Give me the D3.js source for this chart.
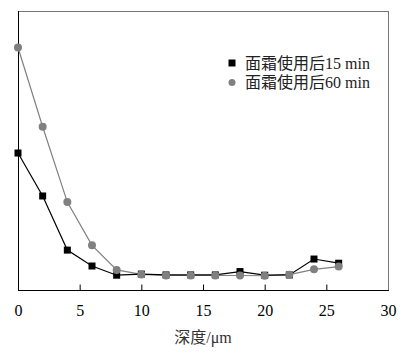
<!doctype html>
<html lang="zh">
<head>
<meta charset="utf-8">
<script src="https://d3js.org/d3.v7.min.js"></script>
<style>
  body { margin: 0; background: #fff; }
  svg text { font-family: "Liberation Serif", "Noto Sans CJK SC", serif; }
</style>
</head>
<body>
<div id="chart"></div>
<script>
  // depth in µm
  const depth = [0, 2, 4, 6, 8, 10, 12, 14, 16, 18, 20, 22, 24, 26];
  // relative signal, arbitrary units (no y labels in the original)
  const after15 = [49.1, 33.7, 14.3, 8.6, 5.3, 5.7, 5.4, 5.4, 5.4, 6.6, 5.3, 5.4, 11.1, 9.6];
  const after60 = [86.9, 58.5, 31.5, 16.0, 7.2, 5.6, 5.2, 5.2, 5.2, 5.2, 5.1, 5.5, 7.4, 8.4];
  const xTicks = [0, 5, 10, 15, 20, 25, 30];
  const legendLabels = ['面霜使用后15 min', '面霜使用后60 min'];

  const width = 409, height = 354;
  const margin = { top: 11, right: 21, bottom: 64, left: 18 };

  const svg = d3.select('#chart').append('svg')
    .attr('width', width)
    .attr('height', height);

  const x = d3.scaleLinear()
    .domain([0, 30])
    .range([margin.left, width - margin.right]);

  const y = d3.scaleLinear()
    .domain([0, 100])
    .range([height - margin.bottom, margin.top]);

  // frame: top/right grey, left/bottom black
  svg.append('line')
    .attr('x1', x(0)).attr('x2', x(30))
    .attr('y1', y(100) + 0.5).attr('y2', y(100) + 0.5)
    .attr('stroke', '#777');
  svg.append('line')
    .attr('x1', x(30) + 0.5).attr('x2', x(30) + 0.5)
    .attr('y1', y(100)).attr('y2', y(0))
    .attr('stroke', '#777');
  svg.append('line')
    .attr('x1', x(0) + 0.5).attr('x2', x(0) + 0.5)
    .attr('y1', y(100)).attr('y2', y(0))
    .attr('stroke', '#000');

  const xAxis = d3.axisBottom(x)
    .tickValues(xTicks)
    .tickSize(-6)
    .tickPadding(14)
    .tickFormat(d3.format('d'));

  const gx = svg.append('g')
    .attr('transform', `translate(0,${y(0) + 0.5})`)
    .call(xAxis);
  gx.select('.domain').attr('stroke', '#000').attr('d', `M${x(0)},0H${x(30) + 1}`);
  gx.selectAll('.tick line').attr('stroke', '#000')
    .attr('display', d => (d === 0 || d === 30) ? 'none' : null);
  gx.selectAll('.tick text')
    .attr('font-size', 16)
    .attr('fill', '#000')
    .attr('font-family', '"Liberation Serif", serif');

  svg.append('text')
    .attr('x', (x(0) + x(30)) / 2)
    .attr('y', 343)
    .attr('text-anchor', 'middle')
    .attr('font-size', 16)
    .attr('fill', '#333')
    .text('深度/μm');

  const line = d3.line()
    .x(d => x(d[0]))
    .y(d => y(d[1]));

  const s60 = depth.map((d, i) => [d, after60[i]]);
  const s15 = depth.map((d, i) => [d, after15[i]]);

  svg.append('path')
    .datum(s60)
    .attr('fill', 'none')
    .attr('stroke', '#808080')
    .attr('stroke-width', 1.2)
    .attr('d', line);

  svg.append('path')
    .datum(s15)
    .attr('fill', 'none')
    .attr('stroke', '#000')
    .attr('stroke-width', 1.2)
    .attr('d', line);

  svg.selectAll('rect.p15')
    .data(s15)
    .enter()
    .append('rect')
    .attr('class', 'p15')
    .attr('x', d => x(d[0]) - 3.5)
    .attr('y', d => y(d[1]) - 3.5)
    .attr('width', 7)
    .attr('height', 7)
    .attr('fill', '#000');

  svg.selectAll('circle.p60')
    .data(s60)
    .enter()
    .append('circle')
    .attr('class', 'p60')
    .attr('cx', d => x(d[0]))
    .attr('cy', d => y(d[1]))
    .attr('r', 4)
    .attr('fill', '#808080');

  // legend
  const legend = svg.append('g').attr('transform', 'translate(232,63)');
  legend.append('rect')
    .attr('x', -3.5).attr('y', -3.5)
    .attr('width', 7).attr('height', 7)
    .attr('fill', '#000');
  legend.append('circle')
    .attr('cx', 0).attr('cy', 19.5)
    .attr('r', 3.5)
    .attr('fill', '#808080');
  legend.selectAll('text')
    .data(legendLabels)
    .enter()
    .append('text')
    .attr('x', 13)
    .attr('y', (d, i) => i * 19.5 + 5.5)
    .attr('font-size', 16)
    .attr('fill', '#222')
    .text(d => d);
</script>
</body>
</html>
